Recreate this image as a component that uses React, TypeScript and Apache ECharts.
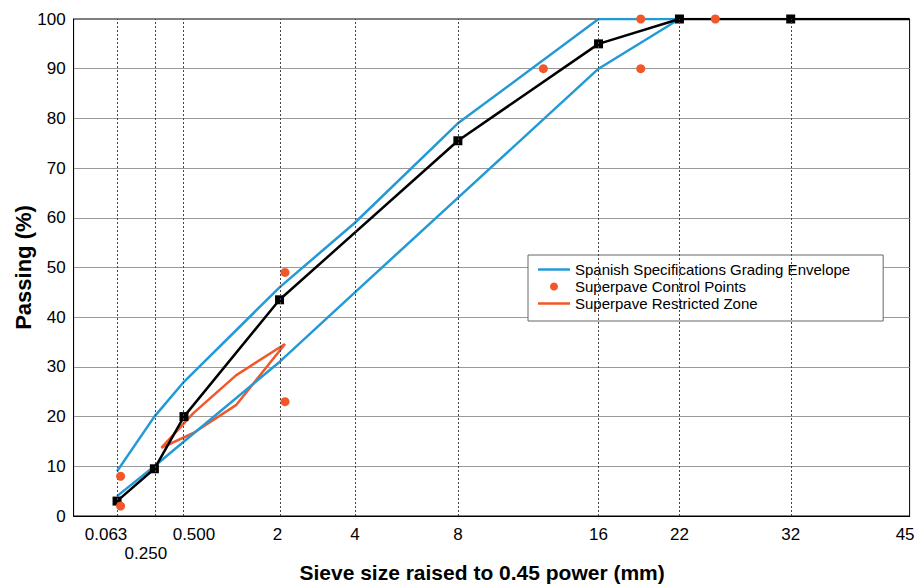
import React, { useEffect, useRef } from "react";
import * as echarts from "echarts";

// ---- data ----
const POWER = 0.45;
const sieveTicks = [0.063, 0.25, 0.5, 2, 4, 8, 16, 22, 32, 45];
const sieveTickLabels = ["0.063", "0.250", "0.500", "2", "4", "8", "16", "22", "32", "45"];

const envelopeSieves = [0.063, 0.25, 0.5, 2, 4, 8, 16, 22];
const envelopeUpper = [9, 20, 27, 46, 59, 79, 100, 100];
const envelopeLower = [4, 10, 15, 31, 45, 64, 90, 100];

const gradationSieves = [0.063, 0.25, 0.5, 2, 8, 16, 22, 32, 45];
const gradationPassing = [3, 9.5, 20, 43.5, 75.5, 95, 100, 100, 100];

const controlSieves = [0.075, 0.075, 2.12, 2.12, 12.5, 19, 19, 25];
const controlPassing = [8, 2, 49, 23, 90, 100, 90, 100];

const restrictedSieves = [0.3, 0.6, 1.18, 2.12, 1.18, 0.6, 0.3];
const restrictedPassing = [13.7, 20.7, 28.3, 34.6, 22.3, 16.7, 13.7];

const ENVELOPE = "Spanish Specifications Grading Envelope";
const CONTROL = "Superpave Control Points";
const RESTRICTED = "Superpave Restricted Zone";

// ---- layout tweaks for tick labels (horizontal shift px, vertical drop px) ----
const labelShift = [-11, -8.5, 10, -2, 0, 0, 0, 0, 0, -4.5];
const labelDrop = [0, 19, 0, 0, 0, 0, 0, 0, 0, 0];

const BLUE = "#239ad6";
const ORANGE = "#f2572a";
const FONT = "'Liberation Sans', Arial, Helvetica, sans-serif";
const LINE_ICON = "path://M0,0H64V5H0Z";

const tx = (s: number) => Math.pow(s, POWER);
const pairs = (xs: number[], ys: number[]) => xs.map((s, i) => [tx(s), ys[i]]);

export default function App() {
  const ref = useRef<HTMLDivElement>(null);
  useEffect(() => {
    if (!ref.current) return;
    const chart = echarts.init(ref.current, undefined, { renderer: "svg" });
    const tickVals = sieveTicks.map(tx);
    const rich: Record<string, any> = {};
    sieveTickLabels.forEach((_, i) => {
      const s = labelShift[i];
      rich["l" + i] = {
        fontSize: 17,
        fontFamily: FONT,
        color: "#000",
        padding: [labelDrop[i], s < 0 ? -2 * s : 0, 0, s > 0 ? 2 * s : 0],
      };
    });
    const gradData: any[] = pairs(gradationSieves, gradationPassing).map((p, i) =>
      i === gradationSieves.length - 1 ? { value: p, symbol: "none" } : { value: p }
    );
    chart.setOption({
      animation: false,
      backgroundColor: "#fff",
      textStyle: { fontFamily: FONT },
      grid: {
        left: 73.6,
        right: 7.4,
        top: 19,
        bottom: 69,
        outerBoundsMode: "none",
        containLabel: false,
        show: true,
        borderColor: "#000",
        borderWidth: 1,
        backgroundColor: "transparent",
      },
      legend: {
        data: [
          { name: ENVELOPE, icon: LINE_ICON },
          { name: CONTROL, icon: "circle" },
          { name: RESTRICTED, icon: LINE_ICON },
        ],
        orient: "vertical",
        left: 528,
        top: 255,
        itemWidth: 32,
        itemHeight: 8,
        itemGap: 2,
        padding: [7, 33, 10, 10],
        backgroundColor: "#fff",
        borderColor: "#666",
        borderWidth: 1,
        borderRadius: 0,
        textStyle: { fontSize: 15, lineHeight: 15, color: "#000", fontFamily: FONT },
      },
      xAxis: {
        type: "value",
        min: 0,
        max: tx(45),
        name: "Sieve size raised to 0.45 power (mm)",
        nameLocation: "middle",
        nameGap: 46,
        nameMoveOverlap: false,
        nameTextStyle: {
          fontSize: 21,
          lineHeight: 21,
          fontWeight: "bold",
          color: "#000",
          fontFamily: FONT,
          padding: [0, 19, 0, 0],
        },
        axisLine: { lineStyle: { color: "#000", width: 1 } },
        axisTick: { show: false },
        splitLine: { show: false },
        axisLabel: {
          customValues: tickVals,
          margin: 10,
          fontSize: 17,
          color: "#000",
          formatter: (v: number) => {
            const i = tickVals.findIndex((t) => Math.abs(t - v) < 1e-6);
            if (i < 0) return "";
            return "{l" + i + "|" + sieveTickLabels[i] + "}";
          },
          rich,
        },
      },
      yAxis: {
        type: "value",
        min: 0,
        max: 100,
        interval: 10,
        name: "Passing (%)",
        nameLocation: "middle",
        nameGap: 39,
        nameMoveOverlap: false,
        nameTextStyle: { fontSize: 22, fontWeight: "bold", color: "#000", fontFamily: FONT },
        axisLine: { show: true, lineStyle: { color: "#000", width: 1 } },
        axisTick: { show: false },
        axisLabel: { fontSize: 17, color: "#000", margin: 8, fontFamily: FONT },
        splitLine: { show: true, showMaxLine: false, lineStyle: { color: "#9a9a9a", width: 1 } },
      },
      series: [
        {
          name: "grid-verticals",
          type: "line",
          data: [],
          silent: true,
          z: 1,
          markLine: {
            silent: true,
            symbol: "none",
            label: { show: false },
            lineStyle: { color: "#444", type: [2, 2], width: 1 },
            emphasis: { disabled: true },
            data: sieveTicks.filter((s) => s < 45).map((s) => ({ xAxis: tx(s) })),
          },
        },
        {
          name: RESTRICTED,
          type: "line",
          z: 2,
          data: pairs(restrictedSieves, restrictedPassing),
          symbol: "none",
          lineStyle: { color: ORANGE, width: 2.5 },
          itemStyle: { color: ORANGE },
        },
        {
          name: ENVELOPE,
          type: "line",
          z: 3,
          data: pairs(envelopeSieves, envelopeUpper),
          symbol: "none",
          lineStyle: { color: BLUE, width: 2.5 },
          itemStyle: { color: BLUE },
        },
        {
          name: ENVELOPE,
          type: "line",
          z: 3,
          data: pairs(envelopeSieves, envelopeLower),
          symbol: "none",
          lineStyle: { color: BLUE, width: 2.5 },
          itemStyle: { color: BLUE },
        },
        {
          name: "Gradation",
          type: "line",
          z: 4,
          data: gradData,
          symbol: "rect",
          symbolSize: 9,
          showAllSymbol: true,
          lineStyle: { color: "#000", width: 2.5 },
          itemStyle: { color: "#000" },
        },
        {
          name: CONTROL,
          type: "scatter",
          z: 5,
          data: pairs(controlSieves, controlPassing),
          symbol: "circle",
          symbolSize: 9,
          itemStyle: { color: ORANGE, opacity: 1 },
        },
      ],
    });
    return () => chart.dispose();
  }, []);
  return (
    <div
      ref={ref}
      style={{ position: "fixed", left: 0, top: 0, width: 917, height: 585, background: "#fff" }}
    />
  );
}
